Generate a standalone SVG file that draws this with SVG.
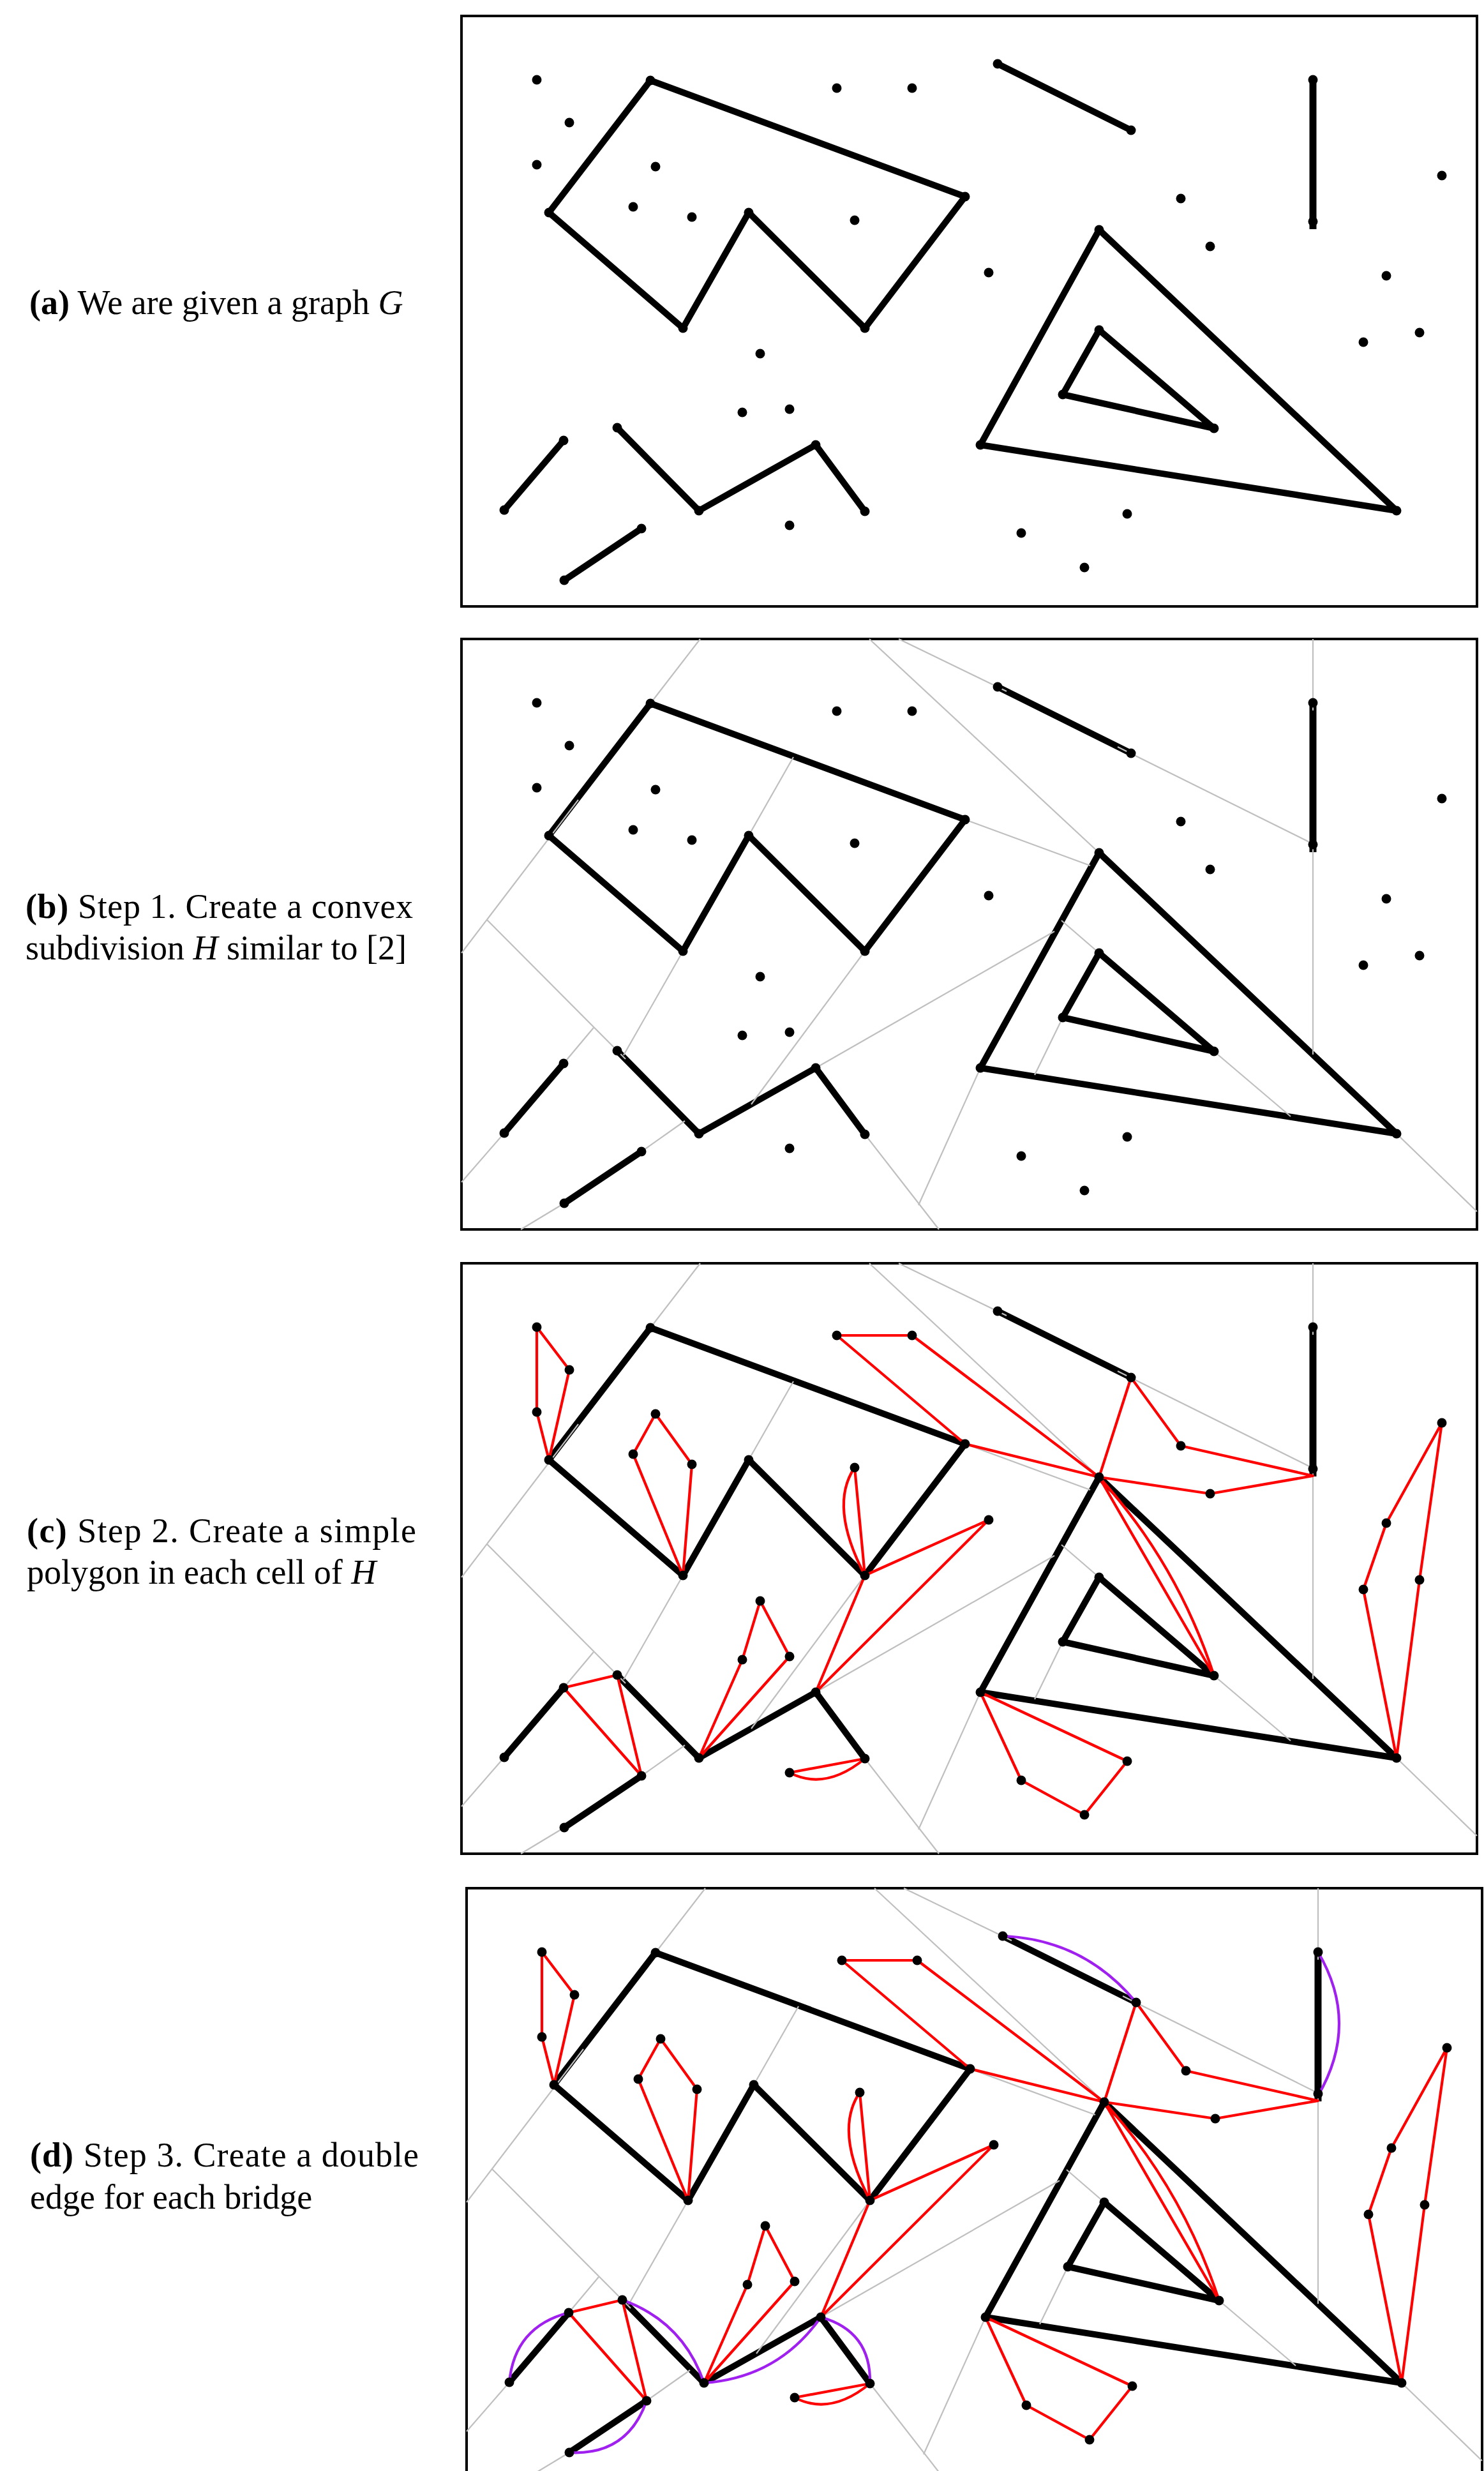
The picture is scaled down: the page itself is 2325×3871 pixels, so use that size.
<svg xmlns="http://www.w3.org/2000/svg" xmlns:xlink="http://www.w3.org/1999/xlink" width="2325" height="3871" viewBox="0 0 2325 3871">
<style>
.box{fill:#fff;stroke:#000;stroke-width:4}
.blk{fill:none;stroke:#000;stroke-width:10;stroke-linecap:round;stroke-linejoin:round}
.gry{fill:none;stroke:#bfbfbf;stroke-width:2.2}
.red{fill:none;stroke:#ff0000;stroke-width:4.2;stroke-linejoin:round}
.pur{fill:none;stroke:#a020f0;stroke-width:4.2}
.dot{fill:#000}
.cap{font-family:"Liberation Serif","Times New Roman",serif;font-size:54px;fill:#000}
</style>
<defs>
<g id="graphEdges" class="blk">
<path d="M296,101 L789,283 L632,489 L450,308 L347,489 L137,308 Z"/>
<path d="M67,774 L160,665"/>
<path d="M161,884 L282,803"/>
<path d="M244,645 L372,775 L555,672 L632,776"/>
<path d="M840,75 L1049,179"/>
<path d="M1334,100 L1334,334" style="stroke-linecap:butt;stroke-width:11"/>
<path d="M999,335 L1465,775 L813,672 Z"/>
<path d="M999,492 L1179,646 L942,593 Z"/>
</g>
<g id="subdiv" class="gry">
<path d="M374,0 L296,101"/>
<path d="M183,252 L0,492"/>
<path d="M40,440 L257,658"/>
<path d="M207,609 L160,665"/>
<path d="M67,774 L0,851"/>
<path d="M520,185 L450,308"/>
<path d="M347,489 L254,652"/>
<path d="M632,489 L454,729"/>
<path d="M789,283 L985,355"/>
<path d="M639,0 L999,335"/>
<path d="M1465,775 L1591,897"/>
<path d="M685,0 L854,82"/>
<path d="M1028,169 L1334,321"/>
<path d="M1334,0 L1334,112"/>
<path d="M1334,326 L1334,651"/>
<path d="M940,441 L999,492"/>
<path d="M1179,646 L1299,748"/>
<path d="M929,458 L555,672"/>
<path d="M942,593 L898,683"/>
<path d="M813,672 L716,887"/>
<path d="M632,776 L748,925"/>
<path d="M350,755 L282,803"/>
<path d="M161,884 L93,925"/>
</g>
<g id="polys" class="red">
<path d="M118,100 L169,167 L137,308 L118,233 Z"/>
<path d="M304,236 L361,315 L347,489 L269,299 Z"/>
<path d="M588,113 L706,113 L999,335 L789,283 Z"/>
<path d="M999,335 L1049,179 L1127,286 L1334,333 L1173,361 Z"/>
<path d="M999,335 L1179,646"/>
<path d="M999,335 Q1122,471 1179,646"/>
<path d="M616,320 L632,489"/>
<path d="M616,320 Q575,380 632,489"/>
<path d="M632,489 L826,402 L555,672 Z"/>
<path d="M468,529 L514,616 L372,775 L440,621 Z"/>
<path d="M160,665 L244,645 L282,803 Z"/>
<path d="M514,798 L632,776"/>
<path d="M514,798 Q570,827 632,776"/>
<path d="M813,672 L1043,780 L976,864 L877,810 Z"/>
<path d="M1465,775 L1413,511 L1449,407 L1536,250 L1501,496 Z"/>
</g>
<g id="bridges" class="pur">
<path d="M67,774 Q75,687 160,665"/>
<path d="M244,645 Q339,679 372,775"/>
<path d="M372,775 Q488,767 555,672"/>
<path d="M555,672 Q634,694 632,776"/>
<path d="M161,884 Q252,889 282,803"/>
<path d="M840,75 Q967,80 1049,179"/>
<path d="M1334,100 Q1400,212 1334,325"/>
</g>
<g id="graphNodes" class="dot">
<circle id="n-p1" cx="118" cy="100" r="7.5"/>
<circle id="n-p2" cx="169" cy="167" r="7.5"/>
<circle id="n-p3" cx="118" cy="233" r="7.5"/>
<circle id="n-p4" cx="304" cy="236" r="7.5"/>
<circle id="n-p5" cx="269" cy="299" r="7.5"/>
<circle id="n-p6" cx="361" cy="315" r="7.5"/>
<circle id="n-p7" cx="588" cy="113" r="7.5"/>
<circle id="n-p8" cx="706" cy="113" r="7.5"/>
<circle id="n-p9" cx="616" cy="320" r="7.5"/>
<circle id="n-p10" cx="826" cy="402" r="7.5"/>
<circle id="n-p11" cx="468" cy="529" r="7.5"/>
<circle id="n-p12" cx="440" cy="621" r="7.5"/>
<circle id="n-p13" cx="514" cy="616" r="7.5"/>
<circle id="n-p14" cx="514" cy="798" r="7.5"/>
<circle id="n-p15" cx="877" cy="810" r="7.5"/>
<circle id="n-p16" cx="1127" cy="286" r="7.5"/>
<circle id="n-p17" cx="1173" cy="361" r="7.5"/>
<circle id="n-p18" cx="1536" cy="250" r="7.5"/>
<circle id="n-p19" cx="1449" cy="407" r="7.5"/>
<circle id="n-p20" cx="1501" cy="496" r="7.5"/>
<circle id="n-p21" cx="1413" cy="511" r="7.5"/>
<circle id="n-p22" cx="1043" cy="780" r="7.5"/>
<circle id="n-p23" cx="976" cy="864" r="7.5"/>
<circle id="n-A" cx="296" cy="101" r="7.5"/>
<circle id="n-B" cx="789" cy="283" r="7.5"/>
<circle id="n-C" cx="632" cy="489" r="7.5"/>
<circle id="n-D" cx="450" cy="308" r="7.5"/>
<circle id="n-E" cx="347" cy="489" r="7.5"/>
<circle id="n-F" cx="137" cy="308" r="7.5"/>
<circle id="n-S1a" cx="67" cy="774" r="7.5"/>
<circle id="n-S1b" cx="160" cy="665" r="7.5"/>
<circle id="n-S2a" cx="161" cy="884" r="7.5"/>
<circle id="n-S2b" cx="282" cy="803" r="7.5"/>
<circle id="n-P1" cx="244" cy="645" r="7.5"/>
<circle id="n-P2" cx="372" cy="775" r="7.5"/>
<circle id="n-P3" cx="555" cy="672" r="7.5"/>
<circle id="n-P4" cx="632" cy="776" r="7.5"/>
<circle id="n-S3a" cx="840" cy="75" r="7.5"/>
<circle id="n-S3b" cx="1049" cy="179" r="7.5"/>
<circle id="n-V1" cx="1334" cy="100" r="7.5"/>
<circle id="n-V2" cx="1334" cy="322" r="7.5"/>
<circle id="n-T1" cx="999" cy="335" r="7.5"/>
<circle id="n-T2" cx="813" cy="672" r="7.5"/>
<circle id="n-T3" cx="1465" cy="775" r="7.5"/>
<circle id="n-I1" cx="999" cy="492" r="7.5"/>
<circle id="n-I2" cx="942" cy="593" r="7.5"/>
<circle id="n-I3" cx="1179" cy="646" r="7.5"/>
</g>
</defs>
<rect width="2325" height="3871" fill="#fff"/>

<g id="panel-a" transform="translate(723,25)">
<rect class="box" x="0" y="0" width="1591" height="925"/>
<use xlink:href="#graphEdges"/>
<use xlink:href="#graphNodes"/>
</g>
<g id="panel-b" transform="translate(723,1001)">
<rect class="box" x="0" y="0" width="1591" height="925"/>
<use xlink:href="#graphEdges"/>
<use xlink:href="#subdiv"/>
<use xlink:href="#graphNodes"/>
</g>
<g id="panel-c" transform="translate(723,1979)">
<rect class="box" x="0" y="0" width="1591" height="925"/>
<use xlink:href="#graphEdges"/>
<use xlink:href="#subdiv"/>
<use xlink:href="#polys"/>
<use xlink:href="#graphNodes"/>
</g>
<g id="panel-d" transform="translate(731,2958)">
<rect class="box" x="0" y="0" width="1591" height="925"/>
<use xlink:href="#graphEdges"/>
<use xlink:href="#subdiv"/>
<use xlink:href="#polys"/>
<use xlink:href="#bridges"/>
<use xlink:href="#graphNodes"/>
</g>

<g id="captions" class="cap">
<text x="46" y="492"><tspan font-weight="bold">(a)</tspan> We are given a graph <tspan font-style="italic">G</tspan></text>
<text x="40" y="1438" textLength="607" lengthAdjust="spacing"><tspan font-weight="bold">(b)</tspan> Step 1.  Create a convex</text>
<text x="40" y="1503">subdivision <tspan font-style="italic">H</tspan> similar to [2]</text>
<text x="42" y="2416" textLength="610" lengthAdjust="spacing"><tspan font-weight="bold">(c)</tspan> Step 2.  Create a simple</text>
<text x="42" y="2481">polygon in each cell of <tspan font-style="italic">H</tspan></text>
<text x="47" y="3394" textLength="609" lengthAdjust="spacing"><tspan font-weight="bold">(d)</tspan> Step 3.  Create a double</text>
<text x="47" y="3460">edge for each bridge</text>
</g>
</svg>
